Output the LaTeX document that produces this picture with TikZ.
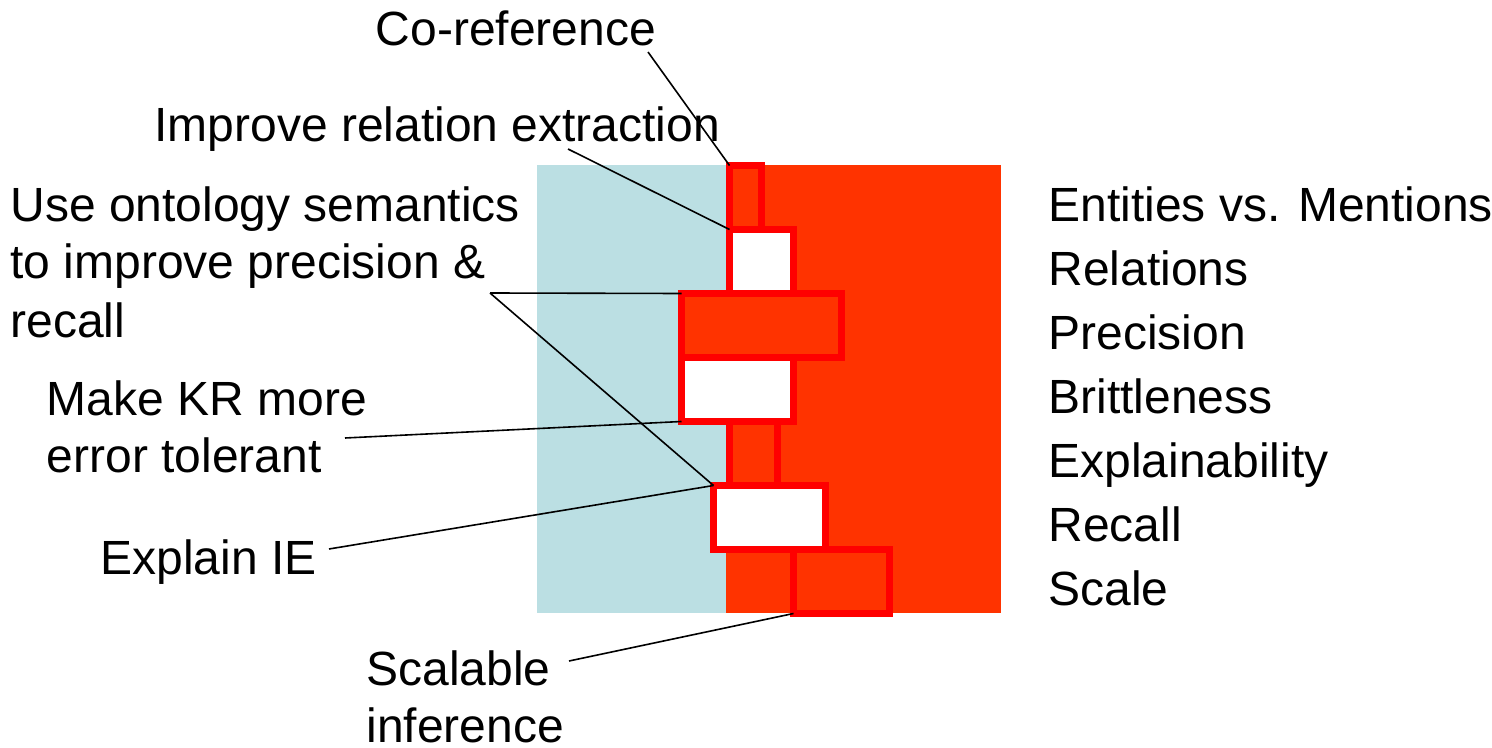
\documentclass[tikz,border=0pt]{standalone}
\usepackage{fontspec}
\setmainfont{Liberation Sans}
\definecolor{paleblue}{RGB}{187,223,227}
\definecolor{hotorange}{RGB}{255,51,0}
\definecolor{boxred}{RGB}{255,0,0}
\begin{document}
\begin{tikzpicture}[x=0.5pt,y=-0.5pt,
  stage/.style={draw=boxred, line width=3.5pt, inner sep=0pt, outer sep=0pt, minimum height=32pt},
  warm/.style={stage, fill=hotorange},
  hollow/.style={stage, fill=white},
  note/.style={anchor=base west, inner sep=0pt, font=\fontsize{24}{28.5}\selectfont, align=left},
  leader/.style={draw=black, line width=0.8pt}]
\useasboundingbox (0,0) rectangle (1492,748);

% two background panels
\fill[paleblue] (537,165) rectangle (726,613);
\fill[hotorange] (726,165) rectangle (1001,613);

% stacked stage boxes
\node[warm,   minimum width=16pt] (b1) at (745.5,197.5) {};
\node[hollow, minimum width=32pt] (b2) at (761.5,261.5) {};
\node[warm,   minimum width=80pt] (b3) at (761.5,325.5) {};
\node[hollow, minimum width=56pt] (b4) at (737.5,389.5) {};
\node[warm,   minimum width=24pt] (b5) at (753.5,453.5) {};
\node[hollow, minimum width=56pt] (b6) at (769.5,517.5) {};
\node[warm,   minimum width=48pt] (b7) at (841.5,581.5) {};

% labels on the left (multi-line labels sit on the baseline of their last line)
\node[note] (tco)   at (375.5,46) {Co-reference};
\node[note] (trel)  at (154,142)  {Improve relation extraction};
\node[note, font=\fontsize{24}{29}\selectfont] (tonto) at (10,337)
  {Use ontology semantics\\to improve precision \&\\recall};
\node[note] (tkr)   at (46.5,472) {Make KR more\\error tolerant};
\node[note] (texp)  at (100,574)  {Explain IE};
\node[note] (tscal) at (366,742)  {Scalable\\inference};

% list on the right
\node[note, font=\fontsize{24}{32}\selectfont] (tlist) at (1048,605)
  {Entities vs. Mentions\\Relations\\Precision\\Brittleness\\Explainability\\Recall\\Scale};

% leader lines
\coordinate (pco)   at (648,52);
\coordinate (prel)  at (568,149);
\coordinate (ponto) at (490,293);
\coordinate (pkr)   at (345,438);
\coordinate (pexp)  at (329,549);
\coordinate (pscal) at (569,661);

\draw[leader] (pco) -- (b1.north west);
\draw[leader] (prel) -- (b2.north west);
\draw[leader] (ponto) -- (b3.north west);
\draw[leader] (ponto) -- (b6.north west);
\draw[leader] (pkr) -- (b4.south west);
\draw[leader] (pexp) -- (b6.north west);
\draw[leader] (pscal) -- (b7.south west);
\end{tikzpicture}
\end{document}
